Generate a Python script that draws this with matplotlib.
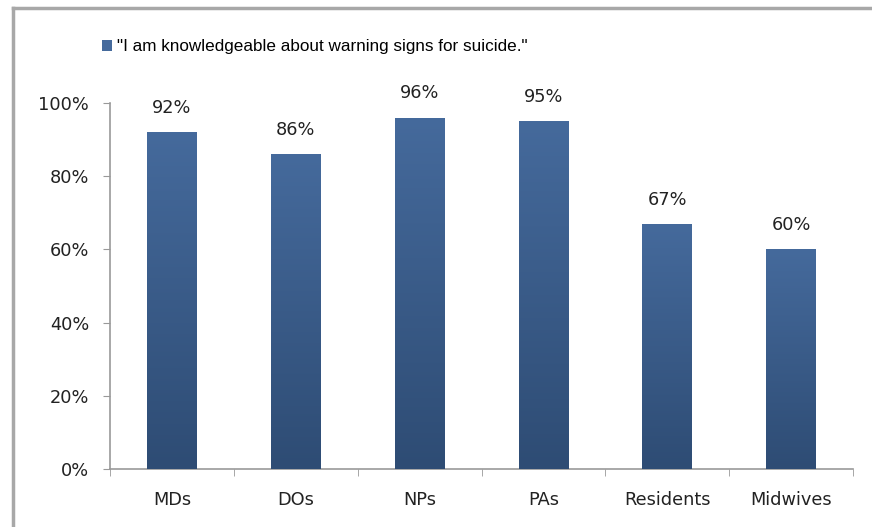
import numpy as np
import matplotlib.pyplot as plt
from matplotlib.lines import Line2D
from matplotlib.patches import Patch

categories = ['MDs', 'DOs', 'NPs', 'PAs', 'Residents', 'Midwives']
values = [92, 86, 96, 95, 67, 60]
yticks = [0, 20, 40, 60, 80, 100]
series_name = '"I am knowledgeable about warning signs for suicide."'

plt.rcParams['font.family'] = ['DejaVu Sans']

top_col = np.array([0x45, 0x6A, 0x9C]) / 255
bot_col = np.array([0x2E, 0x4C, 0x74]) / 255

fig = plt.figure(figsize=(8.72, 5.27), dpi=100)
ax = fig.add_axes([110 / 872, 1 - 469 / 527, 743 / 872, 366 / 527])

x = np.arange(len(categories))
bars = ax.bar(x, values, width=0.4, color=top_col, zorder=2)

# vertical gradient inside each bar
grad = np.linspace(0, 1, 256).reshape(-1, 1)
cols = top_col[None, :] * (1 - grad) + bot_col[None, :] * grad
img = cols.reshape(256, 1, 3)
for b in bars:
    x0, w, h = b.get_x(), b.get_width(), b.get_height()
    im = ax.imshow(img, extent=[x0, x0 + w, 0, h], aspect='auto',
                   origin='upper', zorder=3)
    im.set_clip_path(b)

fs = 12.8
for xi, v in zip(x, values):
    ax.annotate(f'{v}%', (xi, v), xytext=(0, 11), textcoords='offset points',
                ha='center', va='bottom', fontsize=fs, color='#222222')

ax.set_xlim(-0.5, len(categories) - 0.5)
ax.set_ylim(0, 100)
ax.set_yticks(yticks)
ax.set_yticklabels([f'{t}%' for t in yticks], fontsize=fs, color='#222222')
ax.set_xticks(x)
ax.set_xticklabels(categories, fontsize=fs, color='#222222')
ax.set_xticks(np.arange(-0.5, len(categories)), minor=True)
ax.tick_params(axis='x', which='major', length=0, pad=16)
ax.tick_params(axis='x', which='minor', length=5, color='#999999', direction='out')
ax.tick_params(axis='y', length=5, color='#999999', direction='out', pad=10)
for s in ['top', 'right']:
    ax.spines[s].set_visible(False)
for s in ['left', 'bottom']:
    ax.spines[s].set_color('#999999')
    ax.spines[s].set_linewidth(1.2)

handle = Patch(facecolor=top_col, edgecolor='none')
fig.legend([handle], [series_name], loc='center', bbox_to_anchor=(315 / 872, 1 - 47 / 527),
           frameon=False, handlelength=0.6, handleheight=0.6,
           handletextpad=0.3, prop={'family': 'Liberation Sans', 'size': 12.3})

# outer frame (left and top edges)
fig.add_artist(Line2D([13 / 872, 13 / 872], [0, 1 - 8 / 527], color='#A8A8A8', lw=2.5))
fig.add_artist(Line2D([13 / 872, 1], [1 - 8 / 527, 1 - 8 / 527], color='#A8A8A8', lw=2.5))

fig.savefig('out.png', dpi=100)
